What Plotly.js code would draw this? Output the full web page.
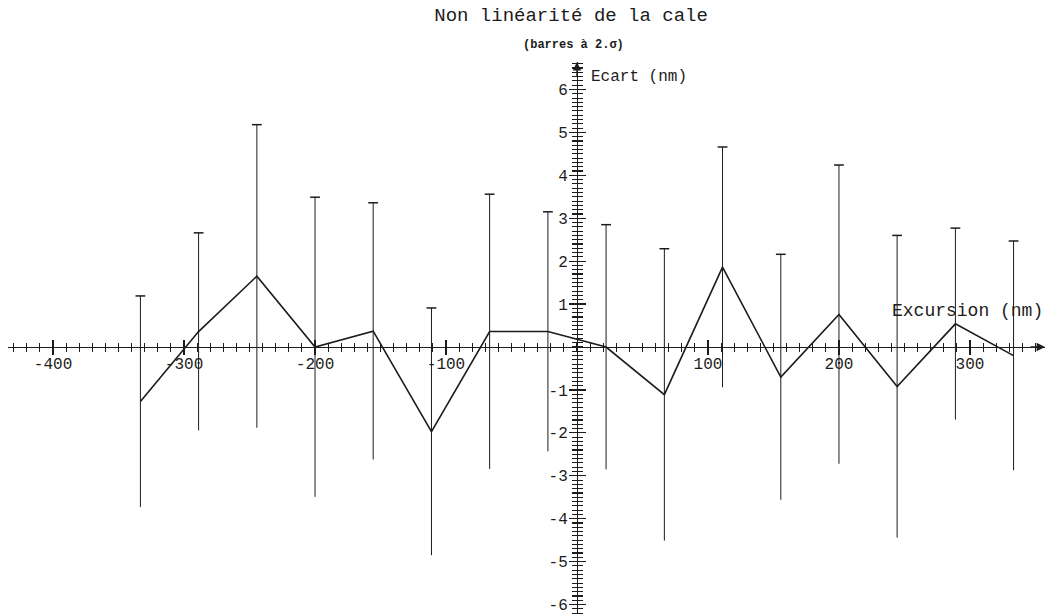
<!DOCTYPE html>
<html>
<head>
<meta charset="utf-8">
<script src="https://cdn.plot.ly/plotly-3.0.1.min.js"></script>
<style>
  html, body { margin: 0; padding: 0; background: #fff; }
  #chart { width: 1051px; height: 616px; }
</style>
</head>
<body>
<div id="chart"></div>
<script>
// Excursion positions (nm)
const excursion = [-333.3, -288.9, -244.4, -200.0, -155.6, -111.1, -66.7, -22.2,
                   22.2, 66.7, 111.1, 155.6, 200.0, 244.4, 288.9, 333.3];
// Deviation from linearity (nm)
const ecart = [-1.27, 0.36, 1.65, 0.00, 0.37, -1.97, 0.36, 0.36,
               0.00, -1.11, 1.86, -0.70, 0.76, -0.92, 0.54, -0.20];
// Half-width of the 2-sigma bars (nm)
const deuxSigma = [2.46, 2.30, 3.53, 3.49, 2.99, 2.88, 3.20, 2.79,
                   2.85, 3.40, 2.80, 2.86, 3.48, 3.52, 2.23, 2.67];

const xTickVals = [-400, -300, -200, -100, 100, 200, 300];
const xTickText = ['-400', '-300', '-200', '-100', '100', '200', '300'];
const yTickVals = [-6, -5, -4, -3, -2, -1, 1, 2, 3, 4, 5, 6];
const yTickText = ['-6', '-5', '-4', '-3', '-2', '-1', '1', '2', '3', '4', '5', '6'];

const xRange = [-434.4, 357.3];
const yRange = [-6.22, 6.64];
const ink = '#1c1c1c';
const mono = 'Liberation Mono, DejaVu Sans Mono, monospace';

// where the axes cross (origin) in normalised plot coordinates
const xAxisPos = (0 - yRange[0]) / (yRange[1] - yRange[0]);
const yAxisPos = (0 - xRange[0]) / (xRange[1] - xRange[0]);

const curve = {
  x: excursion,
  y: ecart,
  mode: 'lines',
  type: 'scatter',
  line: { color: ink, width: 1.6 },
  error_y: { type: 'data', array: deuxSigma, visible: true, width: 0, thickness: 1, color: ink },
  hoverinfo: 'x+y'
};

// caps on the upper end of each bar
const caps = {
  x: excursion,
  y: ecart.map((v, i) => v + deuxSigma[i]),
  xaxis: 'x2',
  yaxis: 'y2',
  mode: 'markers',
  type: 'scatter',
  marker: { symbol: 'line-ew', size: 7, line: { color: ink, width: 1.5 } },
  hoverinfo: 'skip'
};

const xBase = {
  range: xRange,
  anchor: 'free',
  position: xAxisPos,
  showline: true, linecolor: ink, linewidth: 1.2,
  showgrid: false, zeroline: false,
  tickmode: 'array', tickvals: xTickVals, ticktext: xTickText,
  ticks: 'outside', ticklen: 7, tickwidth: 1.2, tickcolor: ink,
  minor: { tickmode: 'linear', tick0: 0, dtick: 10, ticks: 'outside', ticklen: 4, tickwidth: 1, tickcolor: ink, showgrid: false },
  tickfont: { family: mono, size: 16, color: ink },
  ticklabelstandoff: -5,
  ticklabeloverflow: 'allow',
  fixedrange: true
};
const yBase = {
  range: yRange,
  anchor: 'free',
  position: yAxisPos,
  showline: true, linecolor: ink, linewidth: 1.2,
  showgrid: false, zeroline: false,
  tickmode: 'array', tickvals: yTickVals, ticktext: yTickText,
  ticks: 'outside', ticklen: 8, tickwidth: 1.2, tickcolor: ink,
  minor: { tickmode: 'linear', tick0: 0, dtick: 0.1, ticks: 'outside', ticklen: 5, tickwidth: 1.1, tickcolor: ink, showgrid: false },
  tickfont: { family: mono, size: 16, color: ink },
  ticklabelstandoff: -2,
  ticklabeloverflow: 'allow',
  fixedrange: true
};

const layout = {
  width: 1051, height: 616,
  margin: { l: 8, r: 6, t: 62, b: 2 },
  paper_bgcolor: '#fff', plot_bgcolor: '#fff',
  showlegend: false,
  title: {
    text: 'Non linéarité de la cale',
    font: { family: mono, size: 19, color: ink },
    x: 0.543, xanchor: 'center', xref: 'paper',
    y: 0.977, yanchor: 'middle', yref: 'container'
  },
  xaxis: Object.assign({}, xBase, { side: 'bottom' }),
  xaxis2: Object.assign({}, xBase, { side: 'top', overlaying: 'x', matches: 'x', showticklabels: false }),
  yaxis: Object.assign({}, yBase, { side: 'left' }),
  yaxis2: Object.assign({}, yBase, { side: 'right', overlaying: 'y', matches: 'y', showticklabels: false }),
  annotations: [
    {
      text: '<b>(barres à 2.σ)</b>', xref: 'paper', yref: 'paper',
      x: 0.545, y: 1.031, xanchor: 'center', yanchor: 'middle', showarrow: false,
      font: { family: mono, size: 12, color: ink }
    },
    {
      text: 'Ecart (nm)', xref: 'x', yref: 'y', x: 0, y: 6.3,
      xanchor: 'left', yanchor: 'middle', xshift: 12, showarrow: false,
      font: { family: mono, size: 16, color: ink }
    },
    {
      text: 'Excursion (nm)', xref: 'paper', yref: 'y', x: 1, y: 0.83,
      xanchor: 'right', yanchor: 'middle', showarrow: false,
      font: { family: mono, size: 18, color: ink }
    },
    // arrow heads at the ends of both axes
    {
      text: '', xref: 'x', yref: 'paper', x: 0, y: 1, ax: 0, ay: 16,
      showarrow: true, arrowhead: 2, arrowsize: 1.2, arrowwidth: 1.4, arrowcolor: ink
    },
    {
      text: '', xref: 'paper', yref: 'y', x: 1, y: 0, ax: -16, ay: 0,
      showarrow: true, arrowhead: 2, arrowsize: 1.2, arrowwidth: 1.4, arrowcolor: ink
    }
  ]
};

Plotly.newPlot('chart', [curve, caps], layout, { displayModeBar: false, staticPlot: true });
</script>
</body>
</html>
